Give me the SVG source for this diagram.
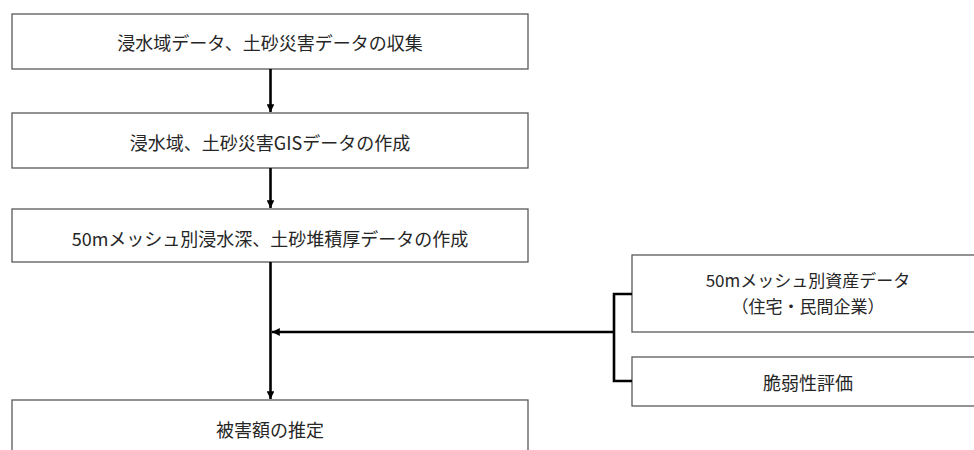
<svg xmlns="http://www.w3.org/2000/svg" width="974" height="450" viewBox="0 0 974 450">
<style>
.box{fill:#fff;stroke:#595959;stroke-width:1.3}
.t{font-family:"Meiryo UI","Noto Sans CJK JP","Noto Sans",sans-serif;font-size:18px;fill:#262626;text-anchor:middle;dominant-baseline:central}
.s{font-size:17px}
.c{fill:none;stroke:#000;stroke-width:2.6}
</style>
<defs>
<marker id="ah" viewBox="0 0 10 10" refX="10" refY="5" markerWidth="3" markerHeight="3" orient="auto" markerUnits="strokeWidth">
<path d="M0,0 L10,5 L0,10 z" fill="#000"/>
</marker>
</defs>
<rect width="974" height="450" fill="#fff"/>
<g id="n1"><rect class="box" x="12" y="14" width="516" height="55"/><text class="t" x="270" y="42">浸水域データ、土砂災害データの収集</text></g>
<g id="n2"><rect class="box" x="12" y="113" width="516" height="55"/><text class="t" x="270" y="142">浸水域、土砂災害GISデータの作成</text></g>
<g id="n3"><rect class="box" x="12" y="209" width="516" height="53"/><text class="t" x="270" y="238">50mメッシュ別浸水深、土砂堆積厚データの作成</text></g>
<g id="n4"><rect class="box" x="12" y="400" width="516" height="70"/><text class="t" x="270" y="429">被害額の推定</text></g>
<g id="n5"><rect class="box" x="632" y="255" width="360" height="77"/><text class="t s" x="808" y="279">50mメッシュ別資産データ</text><text class="t s" x="808" y="305">（住宅・民間企業）</text></g>
<g id="n6"><rect class="box" x="632" y="357" width="360" height="49"/><text class="t" x="808" y="382">脆弱性評価</text></g>
<g id="connectors">
<line class="c" x1="270.5" y1="69" x2="270.5" y2="112" marker-end="url(#ah)"/>
<line class="c" x1="270.5" y1="168" x2="270.5" y2="208" marker-end="url(#ah)"/>
<line class="c" x1="270.5" y1="262" x2="270.5" y2="399" marker-end="url(#ah)"/>
<line class="c" x1="614" y1="332" x2="272" y2="332" marker-end="url(#ah)"/>
<polyline class="c" points="632,294 614,294 614,381 632,381"/>
</g>
</svg>
